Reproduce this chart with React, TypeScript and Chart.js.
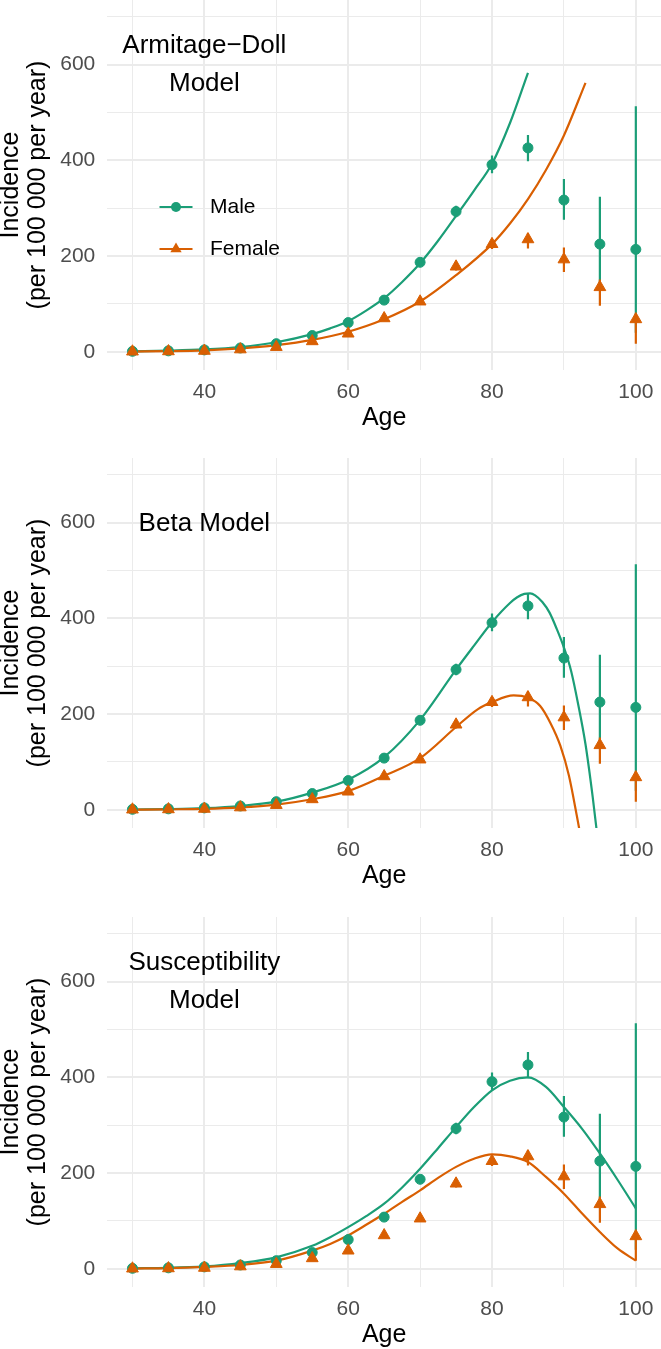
import { useEffect, useRef } from 'react';
import { Chart, registerables } from 'chart.js';

Chart.register(...registerables);

const FONT = '"Liberation Sans", Arial, Helvetica, sans-serif';
const GREEN = '#1B9E77';
const ORANGE = '#D95F02';
const GRID = '#EBEBEB';

// Observed incidence (per 100 000 per year) by age
const ages = [30, 35, 40, 45, 50, 55, 60, 65, 70, 75, 80, 85, 90, 95, 100];
const maleRate = [1, 2, 4, 8, 17, 34, 61, 108, 187, 293, 391, 426, 317, 225, 214];
const maleLow = [0, 1, 3, 7, 15, 31, 57, 102, 180, 281, 373, 398, 276, 130, 40];
const maleHigh = [2, 3, 5, 9, 19, 37, 65, 114, 194, 305, 410, 453, 361, 324, 513];
const femaleRate = [0.5, 1, 2, 5, 10, 22, 38, 70, 105, 178, 225, 235, 193, 135, 68];
const femaleLow = [0, 0.5, 1.5, 4, 9, 20, 35, 65, 99, 170, 215, 216, 167, 96, 17];
const femaleHigh = [1, 1.5, 2.5, 6, 11, 24, 41, 75, 111, 186, 236, 248, 218, 151, 80];

// Armitage-Doll model fits
const adMaleAges = [30, 35, 40, 45, 50, 55, 57.5, 60, 62.5, 65, 67.5, 70, 72.5, 75, 77.5, 80, 82.5, 85];
const adMale = [1, 2.5, 5, 10, 20, 37, 49, 64, 86, 112, 146, 185, 232, 284, 337, 393, 478, 583];
const adFemaleAges = [30, 35, 40, 45, 50, 55, 60, 65, 70, 75, 80, 82.5, 85, 87.5, 90, 93];
const adFemale = [0.5, 1.3, 3, 7, 14, 25, 42, 68, 105, 160, 225, 268, 319, 380, 452, 562];

// Beta model fits
const betaMaleAges = [30, 35, 40, 45, 50, 55, 60, 65, 70, 75, 77.5, 80, 82.5, 83.5, 84.5, 85.3, 86, 87, 88, 89, 90, 91, 92, 93, 94, 95];
const betaMale = [0.5, 1.5, 3.5, 8, 17, 36, 63, 110, 188, 293, 343, 392, 432, 444, 451, 452, 448, 434, 412, 378, 339, 290, 219, 137, 27, -100];
const betaFemaleAges = [30, 35, 40, 45, 50, 55, 60, 65, 70, 75, 78, 80, 83, 85, 86.7, 88.1, 89.5, 90.7, 91.8, 92.5];
const betaFemale = [0.3, 1, 2, 5, 11, 22, 39, 71, 108, 173, 210, 225, 239, 234, 217, 182, 134, 71, -13, -70];

// Susceptibility model fits
const suscAges = [30, 35, 40, 45, 50, 55, 57.5, 60, 62.5, 65, 67.5, 70, 72.5, 75, 77.5, 80, 82.5, 85, 87.5, 90, 92.5, 95, 97.5, 100];
const suscMale = [1, 2, 5, 12, 24, 48, 66, 87, 110, 136, 170, 209, 252, 296, 338, 373, 393, 400, 380, 338, 293, 241, 185, 126];
const suscFemale = [0.5, 1.5, 4, 8, 17, 38, 52, 70, 92, 115, 140, 164, 190, 213, 230, 239, 235, 223, 192, 157, 116, 77, 42, 17];

// Axes
const xTicks = [30, 40, 50, 60, 70, 80, 90, 100];
const xLabels = [40, 60, 80, 100];
const yTicks = [0, 100, 200, 300, 400, 500, 600, 700];
const yLabels = [0, 200, 400, 600];

const PANEL_H = 445;

function pts(xs: number[], ys: number[]) {
  return xs.map((x, i) => ({ x, y: ys[i] }));
}
function bars(lo: number[], hi: number[]) {
  const out: any[] = [];
  ages.forEach((a, i) => {
    out.push({ x: a, y: lo[i] }, { x: a, y: hi[i] }, { x: a, y: null });
  });
  return out;
}

type PanelProps = {
  top: number;
  title: string[];
  titleTop: number;
  maleCurve: { x: number; y: number }[];
  femaleCurve: { x: number; y: number }[];
  legend: boolean;
};

function Panel({ top, title, titleTop, maleCurve, femaleCurve, legend }: PanelProps) {
  const ref = useRef<HTMLCanvasElement | null>(null);
  useEffect(() => {
    if (!ref.current) return;
    const textPlugin = {
      id: 'panelText',
      afterDraw(chart: any) {
        const { ctx, chartArea, scales } = chart;
        const cx = scales.x.getPixelForValue(40);
        ctx.save();
        ctx.fillStyle = '#000000';
        ctx.textAlign = 'center';
        ctx.textBaseline = 'middle';
        ctx.font = `26px ${FONT}`;
        title.forEach((line, i) => ctx.fillText(line, cx, chartArea.top + titleTop + i * 38));
        // y title
        const cy = (chartArea.top + chartArea.bottom) / 2;
        ctx.font = `25px ${FONT}`;
        ctx.save();
        ctx.translate(11.5, cy);
        ctx.rotate(-Math.PI / 2);
        ctx.fillText('Incidence', 0, 0);
        ctx.restore();
        ctx.save();
        ctx.translate(38, cy);
        ctx.rotate(-Math.PI / 2);
        ctx.fillText('(per 100 000 per year)', 0, 0);
        ctx.restore();
        // x title
        ctx.fillText('Age', (chartArea.left + chartArea.right) / 2, chartArea.bottom + 48);
        if (legend) {
          const items = [
            { label: 'Male', color: GREEN, shape: 'circle', y: 207 },
            { label: 'Female', color: ORANGE, shape: 'triangle', y: 249 },
          ];
          items.forEach((it) => {
            ctx.strokeStyle = it.color;
            ctx.fillStyle = it.color;
            ctx.lineWidth = 2;
            ctx.beginPath();
            ctx.moveTo(159.5, it.y);
            ctx.lineTo(192.5, it.y);
            ctx.stroke();
            ctx.beginPath();
            if (it.shape === 'circle') {
              ctx.arc(176, it.y, 5, 0, Math.PI * 2);
            } else {
              const r = 6.5;
              ctx.moveTo(176, it.y - r);
              ctx.lineTo(176 + r * 0.866, it.y + r / 2);
              ctx.lineTo(176 - r * 0.866, it.y + r / 2);
              ctx.closePath();
            }
            ctx.fill();
            ctx.fillStyle = '#000000';
            ctx.textAlign = 'left';
            ctx.font = `21px ${FONT}`;
            ctx.fillText(it.label, 210, it.y);
          });
        }
        ctx.restore();
      },
    };

    const chart = new Chart(ref.current, {
      type: 'line',
      data: {
        datasets: [
          {
            data: pts(ages, femaleRate) as any,
            showLine: false,
            pointStyle: 'triangle',
            pointRadius: 6.8,
            pointBackgroundColor: ORANGE,
            pointBorderColor: ORANGE,
            pointBorderWidth: 1,
            order: 1,
          },
          {
            data: bars(femaleLow, femaleHigh) as any,
            borderColor: ORANGE,
            borderWidth: 2.2,
            pointRadius: 0,
            spanGaps: false,
            tension: 0,
            order: 2,
          },
          {
            data: pts(ages, maleRate) as any,
            showLine: false,
            pointStyle: 'circle',
            pointRadius: 5,
            pointBackgroundColor: GREEN,
            pointBorderColor: GREEN,
            pointBorderWidth: 1,
            order: 3,
          },
          {
            data: bars(maleLow, maleHigh) as any,
            borderColor: GREEN,
            borderWidth: 2.2,
            pointRadius: 0,
            spanGaps: false,
            tension: 0,
            order: 4,
          },
          {
            data: femaleCurve as any,
            borderColor: ORANGE,
            borderWidth: 2.2,
            pointRadius: 0,
            cubicInterpolationMode: 'monotone',
            order: 5,
          },
          {
            data: maleCurve as any,
            borderColor: GREEN,
            borderWidth: 2.2,
            pointRadius: 0,
            cubicInterpolationMode: 'monotone',
            order: 6,
          },
        ],
      },
      options: {
        animation: false,
        responsive: false,
        devicePixelRatio: 1,
        layout: { padding: 0, autoPadding: false },
        plugins: { legend: { display: false }, title: { display: false }, tooltip: { enabled: false } },
        scales: {
          x: {
            type: 'linear',
            min: 26.5,
            max: 103.5,
            afterBuildTicks: (s: any) => {
              s.ticks = xTicks.map((v) => ({ value: v }));
            },
            afterFit: (s: any) => {
              s.height = PANEL_H - 370;
              s.paddingLeft = 0;
              s.paddingRight = 0;
            },
            ticks: {
              autoSkip: false,
              maxRotation: 0,
              padding: 10,
              color: '#4D4D4D',
              font: { family: FONT, size: 21 },
              callback: (v: any) => (xLabels.includes(Number(v)) ? String(v) : ''),
            },
            grid: {
              color: GRID,
              drawTicks: false,
              lineWidth: (c: any) => (c.tick && xLabels.includes(c.tick.value) ? 2 : 1),
            },
            border: { display: false },
          },
          y: {
            type: 'linear',
            min: -38,
            max: 735,
            afterBuildTicks: (s: any) => {
              s.ticks = yTicks.map((v) => ({ value: v }));
            },
            afterFit: (s: any) => {
              s.width = 107.3;
              s.paddingTop = 0;
              s.paddingBottom = 0;
            },
            ticks: {
              padding: 12,
              color: '#4D4D4D',
              font: { family: FONT, size: 21 },
              callback: (v: any) => (yLabels.includes(Number(v)) ? String(v) : ''),
            },
            grid: {
              color: GRID,
              drawTicks: false,
              lineWidth: (c: any) => (c.tick && yLabels.includes(c.tick.value) ? 2 : 1),
            },
            border: { display: false },
          },
        },
      },
      plugins: [textPlugin],
    } as any);
    return () => chart.destroy();
  }, []);
  return (
    <div style={{ position: 'absolute', left: 0, top, width: 661, height: PANEL_H }}>
      <canvas ref={ref} width={661} height={PANEL_H} style={{ display: 'block' }} />
    </div>
  );
}

export default function App() {
  return (
    <div
      style={{
        position: 'absolute',
        left: 0,
        top: 0,
        width: 661,
        height: 1349,
        overflow: 'hidden',
        background: '#ffffff',
      }}
    >
      <Panel
        top={0}
        title={['Armitage\u2212Doll', 'Model']}
        titleTop={46}
        maleCurve={pts(adMaleAges, adMale)}
        femaleCurve={pts(adFemaleAges, adFemale)}
        legend={true}
      />
      <Panel
        top={458}
        title={['Beta Model']}
        titleTop={66}
        maleCurve={pts(betaMaleAges, betaMale)}
        femaleCurve={pts(betaFemaleAges, betaFemale)}
        legend={false}
      />
      <Panel
        top={917}
        title={['Susceptibility', 'Model']}
        titleTop={46}
        maleCurve={pts(suscAges, suscMale)}
        femaleCurve={pts(suscAges, suscFemale)}
        legend={false}
      />
    </div>
  );
}
